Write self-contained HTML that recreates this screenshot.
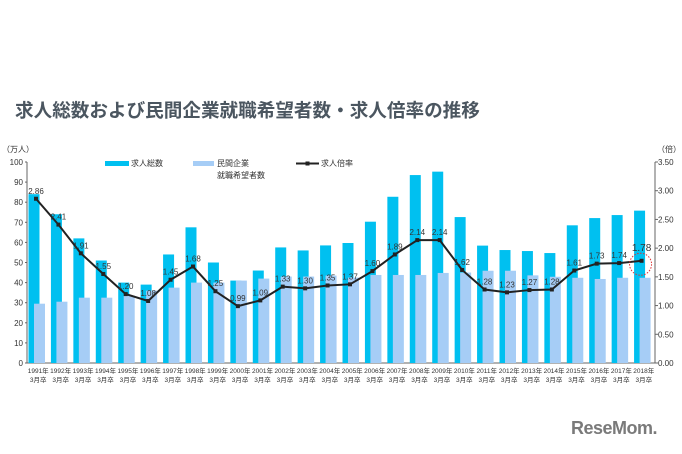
<!DOCTYPE html>
<html><head><meta charset="utf-8">
<style>
body{margin:0;background:#fff;width:682px;height:454px;overflow:hidden;font-family:"Liberation Sans","Noto Sans CJK JP",sans-serif;}
#title{position:absolute;left:15px;top:98px;font-size:18.6px;font-weight:bold;color:#4b5660;letter-spacing:0;white-space:nowrap;font-family:"Noto Sans CJK JP",sans-serif;line-height:24px;}
#logo{position:absolute;left:571px;top:418px;font-size:18px;font-weight:bold;color:#7a7a7a;letter-spacing:-0.5px;}
svg{position:absolute;left:0;top:0;}
text{font-family:"Liberation Sans","Noto Sans CJK JP",sans-serif;}
</style></head><body>
<div id="title">求人総数および民間企業就職希望者数・求人倍率の推移</div>
<div id="logo">ReseMom.</div>
<svg id="chart" width="682" height="454"></svg>
<script>
const years = ["1991","1992","1993","1994","1995","1996","1997","1998","1999","2000","2001","2002","2003","2004","2005","2006","2007","2008","2009","2010","2011","2012","2013","2014","2015","2016","2017","2018"];
const totalJobs = [84,74,62,51,40,39,54,67.5,50,41,46,57.5,56,58.5,59.7,70.3,82.7,93.5,95.2,72.6,58.4,56.2,55.7,54.7,68.5,72.1,73.6,75.8];
const applicants = [29.5,30.5,32.5,32.5,33.5,36,37.5,40,40,41,42,43,43,43.5,42.5,43.8,43.8,43.8,44.8,45,45.9,45.9,43.6,42.9,42.4,41.8,42.4,42.4];
const ratio = [2.86,2.41,1.91,1.55,1.20,1.08,1.45,1.68,1.25,0.99,1.09,1.33,1.30,1.35,1.37,1.60,1.89,2.14,2.14,1.62,1.28,1.23,1.27,1.28,1.61,1.73,1.74,1.78];
const leftTicks = [0,10,20,30,40,50,60,70,80,90,100];
const rightTicks = ["0.00","0.50","1.00","1.50","2.00","2.50","3.00","3.50"];

const NS="http://www.w3.org/2000/svg";
const svg=document.getElementById('chart');
const X0=27,X1=655,Y0=363,Y1=162;
const cw=(X1-X0)/years.length;
const yL=v=>Y0-(v/100)*(Y0-Y1);
const yR=v=>Y0-(v/3.5)*(Y0-Y1);
const xc=i=>X0+i*cw;
function mk(tag,attrs,txt){const e=document.createElementNS(NS,tag);for(const k in attrs)e.setAttribute(k,attrs[k]);if(txt!==undefined)e.textContent=txt;svg.appendChild(e);return e;}

let a=mk('line',{x1:X0,y1:Y1,x2:X0,y2:Y0,stroke:'#666','stroke-width':1});


a=mk('line',{x1:X1,y1:Y1,x2:X1,y2:Y0,stroke:'#666','stroke-width':1});


a=mk('line',{x1:X0,y1:Y0,x2:X1,y2:Y0,stroke:'#666','stroke-width':1});



leftTicks.forEach(v=>{
  const t=mk('text',{x:X0-4,y:yL(v)+3,'font-size':8,'text-anchor':'end',fill:'#333'},v);
  
  
  mk('line',{x1:X0-2,y1:yL(v),x2:X0,y2:yL(v),stroke:'#666'});
});
rightTicks.forEach(v=>{
  const t=mk('text',{x:X1+3,y:yR(+v)+3,'font-size':8,fill:'#333'},v);
  
  
  mk('line',{x1:X1,y1:yR(+v),x2:X1+3,y2:yR(+v),stroke:'#666'});
});
let u=mk('text',{x:2,y:152,'font-size':8,fill:'#333'},'（万人）');


u=mk('text',{x:657,y:152,'font-size':8,fill:'#333'},'（倍）');



years.forEach((y,i)=>{
  const b=mk('rect',{x:xc(i)+1.5,y:yL(totalJobs[i]),width:11,height:Y0-yL(totalJobs[i]),fill:'#00c0f0'});
  
  
});
years.forEach((y,i)=>{
  const b=mk('rect',{x:xc(i)+7,y:yL(applicants[i]),width:11,height:Y0-yL(applicants[i]),fill:'#a6cdf6'});
  
  
});
years.forEach((y,i)=>{
  const cx=xc(i)+cw/2;
  const t=mk('text',{x:cx,y:373,'font-size':6.5,'text-anchor':'middle',fill:'#333'},y+'年');
  
  
  const t2=mk('text',{x:cx,y:382,'font-size':6.5,'text-anchor':'middle',fill:'#333'},'3月卒');
  
  
});
const px=i=>xc(i)+9;
const pts=ratio.map((v,i)=>px(i)+','+yR(v)).join(' ');
const ln=mk('polyline',{points:pts,fill:'none',stroke:'#222','stroke-width':2});


ratio.forEach((v,i)=>{
  const m=mk('rect',{x:px(i)-2,y:yR(v)-2,width:4,height:4,fill:'#222'});
  
  
  const last=i===ratio.length-1;
  const t=mk('text',{x:px(i),y:yR(v)-(last?10:5),'font-size':last?10:8,'text-anchor':'middle',fill:'#333'},v.toFixed(2));
  
  
});
const c=mk('circle',{cx:px(27)-1,cy:yR(1.72),r:11,fill:'none',stroke:'#d33','stroke-width':1,'stroke-dasharray':'1.5,1.5'});



let g=mk('rect',{x:105,y:161,width:24,height:5,fill:'#00c0f0'});


g=mk('text',{x:131,y:166,'font-size':8,fill:'#333'},'求人総数');


g=mk('rect',{x:193,y:161,width:21,height:5,fill:'#a6cdf6'});


g=mk('text',{x:217,y:166,'font-size':8,fill:'#333'},'民間企業');


g=mk('text',{x:217,y:178,'font-size':8,fill:'#333'},'就職希望者数');


g=mk('line',{x1:296,y1:163.5,x2:319,y2:163.5,stroke:'#222','stroke-width':2});


mk('rect',{x:305.5,y:161.5,width:4,height:4,fill:'#222'});
g=mk('text',{x:321,y:166,'font-size':8,fill:'#333'},'求人倍率');


</script>
</body></html>
